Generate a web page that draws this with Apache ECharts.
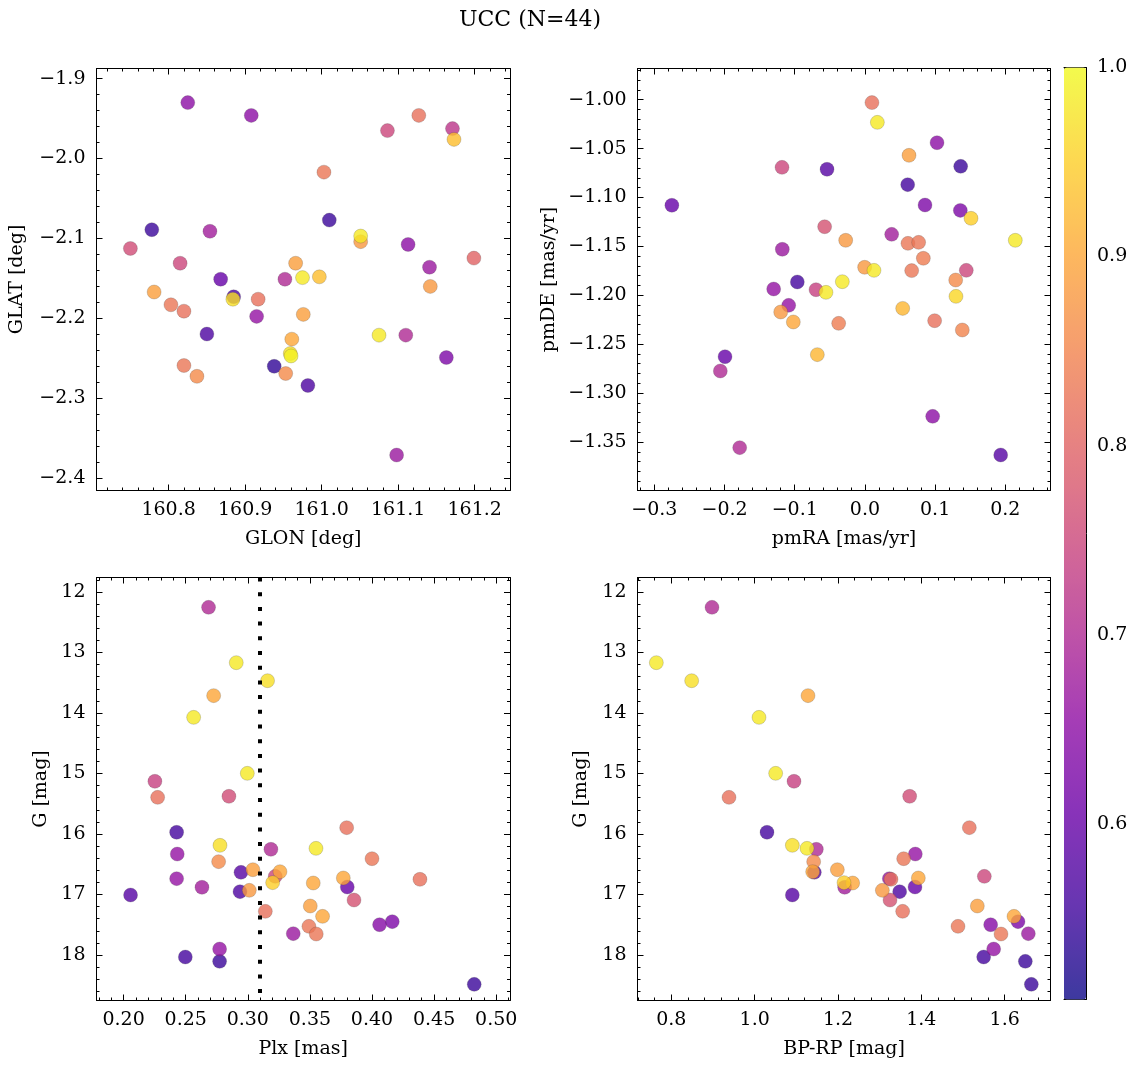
<!DOCTYPE html>
<html><head><meta charset="utf-8">
<script src="https://cdn.jsdelivr.net/npm/echarts@6/dist/echarts.min.js"></script>
<style>html,body{margin:0;padding:0;background:#fff}#c{width:1136px;height:1067px}</style>
</head><body><div id="c"></div>
<script>
// ---- Panel 1: sky positions ----
const glon = [160.825,160.908,161.086,161.127,161.171,161.173,161.003,161.010,160.778,160.854,160.750,161.051,161.051,161.113,161.199,160.815,160.966,161.141,160.868,160.952,160.975,160.997,160.781,161.142,160.885,160.884,160.917,160.803,160.820,160.915,160.976,160.850,161.075,161.110,160.961,160.959,160.960,161.163,160.820,160.837,160.938,160.953,160.982,161.098];
const glat = [-1.930,-1.946,-1.965,-1.946,-1.9625,-1.976,-2.017,-2.077,-2.089,-2.091,-2.1125,-2.097,-2.104,-2.1075,-2.1246,-2.131,-2.131,-2.136,-2.151,-2.151,-2.149,-2.148,-2.167,-2.160,-2.173,-2.176,-2.176,-2.183,-2.191,-2.1975,-2.195,-2.2196,-2.221,-2.221,-2.226,-2.244,-2.247,-2.249,-2.259,-2.2725,-2.260,-2.269,-2.284,-2.371];
const probSky = [0.65,0.65,0.75,0.82,0.72,0.93,0.83,0.55,0.55,0.68,0.76,0.98,0.88,0.65,0.80,0.75,0.89,0.67,0.60,0.70,0.98,0.93,0.89,0.88,0.57,0.97,0.82,0.83,0.82,0.66,0.89,0.57,0.98,0.70,0.90,0.97,0.99,0.63,0.83,0.86,0.54,0.86,0.57,0.67];
// ---- Panel 2: proper motions ----
const pmra = [-0.275,0.010,0.0177,0.1027,0.0628,-0.1181,-0.054,0.1364,0.0609,0.0856,0.1359,0.1511,-0.0574,-0.0274,0.0381,0.0613,0.0765,0.2142,-0.1177,0.0832,-0.0004,0.0129,0.0666,0.1444,-0.0963,-0.0322,-0.130,-0.0697,-0.0555,0.1293,0.1297,-0.1086,-0.120,-0.102,-0.0374,0.0538,0.0993,0.1387,-0.1993,-0.206,-0.0678,0.0965,-0.1784,0.1934];
const pmde = [-1.108,-1.003,-1.0232,-1.044,-1.0569,-1.0692,-1.0712,-1.0682,-1.0869,-1.1077,-1.1132,-1.1213,-1.1299,-1.1438,-1.1377,-1.1469,-1.1459,-1.1438,-1.1530,-1.1622,-1.1714,-1.1745,-1.1748,-1.1745,-1.1864,-1.1861,-1.1936,-1.1943,-1.1970,-1.1844,-1.2011,-1.2103,-1.2171,-1.2273,-1.2287,-1.2134,-1.2260,-1.2355,-1.2628,-1.2774,-1.2607,-1.3238,-1.3558,-1.3633];
const probPM = [0.60,0.82,0.98,0.65,0.89,0.75,0.58,0.55,0.56,0.63,0.63,0.95,0.77,0.88,0.68,0.83,0.83,0.98,0.67,0.84,0.88,0.98,0.83,0.75,0.56,0.98,0.66,0.74,0.98,0.86,0.96,0.66,0.88,0.90,0.84,0.92,0.82,0.85,0.60,0.70,0.92,0.65,0.70,0.58];
// ---- Panels 3 & 4: parallax / photometry ----
const plx = [0.2684,0.2907,0.3159,0.2725,0.2564,0.2996,0.2252,0.2274,0.2848,0.3796,0.2427,0.2776,0.3186,0.3549,0.2432,0.2765,0.4000,0.2945,0.3041,0.3221,0.3259,0.3200,0.3527,0.2427,0.2631,0.3769,0.3801,0.4386,0.2056,0.2937,0.3012,0.3855,0.3141,0.3503,0.3602,0.4061,0.4163,0.3366,0.3492,0.3551,0.2773,0.2497,0.2773,0.4823];
const gmag = [12.253,13.168,13.466,13.713,14.072,14.997,15.129,15.394,15.377,15.895,15.972,16.187,16.253,16.237,16.331,16.457,16.408,16.634,16.590,16.700,16.623,16.804,16.810,16.738,16.881,16.727,16.876,16.749,17.008,16.953,16.931,17.091,17.278,17.190,17.361,17.499,17.449,17.647,17.526,17.653,17.901,18.033,18.105,18.485];
const bprp = [0.8976,0.764,0.8488,1.128,1.0104,1.0504,1.0944,0.9384,1.372,1.5152,1.0296,1.0904,1.148,1.1256,1.3856,1.1416,1.3576,1.1432,1.1984,1.5512,1.1392,1.2144,1.2352,1.3232,1.216,1.3928,1.3848,1.3272,1.0904,1.348,1.3064,1.3248,1.3552,1.5344,1.6224,1.5664,1.632,1.6568,1.488,1.5912,1.5736,1.5496,1.6496,1.664];
const probPhot = [0.70,0.98,0.97,0.90,0.98,0.98,0.74,0.82,0.76,0.82,0.56,0.97,0.70,0.98,0.66,0.86,0.83,0.58,0.89,0.75,0.90,0.95,0.90,0.66,0.68,0.90,0.60,0.82,0.58,0.57,0.88,0.77,0.82,0.89,0.90,0.64,0.63,0.67,0.83,0.83,0.66,0.56,0.55,0.55];
const plxLine = 0.309;
// ---- tick labels ----
const glonTicks = [160.8,160.9,161.0,161.1,161.2];
const glatTicks = [-1.9,-2.0,-2.1,-2.2,-2.3,-2.4];
const pmraTicks = [-0.3,-0.2,-0.1,0.0,0.1,0.2];
const pmdeTicks = [-1.00,-1.05,-1.10,-1.15,-1.20,-1.25,-1.30,-1.35];
const plxTicks = [0.20,0.25,0.30,0.35,0.40,0.45,0.50];
const gTicks = [12,13,14,15,16,17,18];
const bprpTicks = [0.8,1.0,1.2,1.4,1.6];
const probTicks = [0.6,0.7,0.8,0.9,1.0];
const probMin = 0.507, probMax = 1.0;

const plasma = ['#0d0887','#41049d','#6a00a8','#8f0da4','#b12a90','#cc4778','#e16462','#f2844b','#fca636','#fcce25','#f0f921'];
const ALPHA = 0.8;
function blend(hex){const n=parseInt(hex.slice(1),16);const c=[n>>16,(n>>8)&255,n&255].map(v=>Math.round(ALPHA*v+(1-ALPHA)*255));return 'rgb('+c.join(',')+')';}
const plasmaBaked = plasma.map(blend);

const FONT = 'DejaVu Serif';
const FS = 19;
const fmt = (v,d)=>{const s=Math.abs(v).toFixed(d);return (v<-1e-9?'\u2212':'')+s;};
function steps(min,max,step){const o=[];const k0=Math.ceil(min/step-1e-9),k1=Math.floor(max/step+1e-9);for(let k=k0;k<=k1;k++)o.push(+(k*step).toFixed(6));return o;}

const grids=[], xAxes=[], yAxes=[];
const lineStyle={color:'#000',width:1};
function addAxes(kind, gi, cfg){
  const arr = kind==='x'?xAxes:yAxes;
  const posMain = kind==='x'?'bottom':'left';
  const posOpp = kind==='x'?'top':'right';
  const minors = steps(cfg.min,cfg.max,cfg.minor);
  const base = {type:'value',gridIndex:gi,min:cfg.min,max:cfg.max,inverse:!!cfg.inverse,splitLine:{show:false},axisPointer:{show:false}};
  const lineOn = {show:true,onZero:false,lineStyle};
  const lineOff = {show:false,onZero:false};
  const mainIdx = arr.length;
  arr.push(Object.assign({},base,{position:posMain,axisLine:lineOn,
    axisTick:{show:true,inside:true,length:6,customValues:cfg.ticks,lineStyle},
    axisLabel:{show:true,customValues:cfg.ticks,margin:cfg.margin,formatter:v=>fmt(v,cfg.dec),color:'#000',fontFamily:FONT,fontSize:FS},
    name:cfg.name,nameLocation:'middle',nameGap:cfg.nameGap,nameTextStyle:{color:'#000',fontFamily:FONT,fontSize:FS}}));
  arr.push(Object.assign({},base,{position:posMain,axisLine:lineOff,
    axisTick:{show:true,inside:true,length:3,customValues:minors,lineStyle},axisLabel:{show:false}}));
  arr.push(Object.assign({},base,{position:posOpp,axisLine:lineOn,
    axisTick:{show:true,inside:true,length:6,customValues:cfg.ticks,lineStyle},axisLabel:{show:false}}));
  arr.push(Object.assign({},base,{position:posOpp,axisLine:lineOff,
    axisTick:{show:true,inside:true,length:3,customValues:minors,lineStyle},axisLabel:{show:false}}));
  return mainIdx;
}

const panels = [
  {grid:{left:96.5,top:68.5,width:413.5,height:422},
   x:{min:160.7057,max:161.2462,ticks:glonTicks,minor:0.02,dec:1,name:'GLON [deg]',nameGap:39,margin:10},
   y:{min:-2.4154,max:-1.8873,ticks:glatTicks,minor:0.02,dec:1,name:'GLAT [deg]',nameGap:70,margin:11},
   xs:glon,ys:glat,ps:probSky},
  {grid:{left:637.5,top:68.5,width:413,height:422},
   x:{min:-0.32398,max:0.26435,ticks:pmraTicks,minor:0.02,dec:1,name:'pmRA [mas/yr]',nameGap:39,margin:10},
   y:{min:-1.39962,max:-0.96813,ticks:pmdeTicks,minor:0.01,dec:2,name:'pmDE [mas/yr]',nameGap:79,margin:11},
   xs:pmra,ys:pmde,ps:probPM},
  {grid:{left:96.5,top:577.5,width:413.5,height:423},
   x:{min:0.17818,max:0.5111,ticks:plxTicks,minor:0.01,dec:2,name:'Plx [mas]',nameGap:39,margin:10},
   y:{min:11.760,max:18.752,inverse:true,ticks:gTicks,minor:0.2,dec:0,name:'G [mag]',nameGap:46,margin:11},
   xs:plx,ys:gmag,ps:probPhot,vline:plxLine},
  {grid:{left:637.5,top:577.5,width:413,height:423},
   x:{min:0.7188,max:1.710,ticks:bprpTicks,minor:0.04,dec:1,name:'BP-RP [mag]',nameGap:39,margin:10},
   y:{min:11.760,max:18.752,inverse:true,ticks:gTicks,minor:0.2,dec:0,name:'G [mag]',nameGap:47,margin:11},
   xs:bprp,ys:gmag,ps:probPhot}
];

const series=[];
panels.forEach((p,gi)=>{
  grids.push(Object.assign({outerBoundsMode:'none',containLabel:false},p.grid));
  const xi=addAxes('x',gi,p.x), yi=addAxes('y',gi,p.y);
  const data=p.xs.map((x,i)=>[x,p.ys[i],p.ps[i]]).sort((a,b)=>a[2]-b[2]);
  const s={type:'scatter',xAxisIndex:xi,yAxisIndex:yi,data,symbolSize:14,
    itemStyle:{opacity:ALPHA,borderColor:'rgba(70,70,70,0.55)',borderWidth:0.5},
    emphasis:{disabled:true},silent:true};
  if(p.vline!==undefined){
    s.markLine={silent:true,symbol:['none','none'],label:{show:false},z:10,
      lineStyle:{color:'#000',width:4,type:[4,10.7],cap:'butt'},data:[{xAxis:p.vline}]};
  }
  series.push(s);
});
// colorbar grid
const cbGi = grids.length;
grids.push({left:1064,top:67.5,width:22,height:932,outerBoundsMode:'none',containLabel:false});
const cbx1 = xAxes.length;
const cbLine = {show:true,onZero:false,lineStyle};
xAxes.push({type:'value',gridIndex:cbGi,min:0,max:1,position:'bottom',axisLine:cbLine,axisTick:{show:false},axisLabel:{show:false},splitLine:{show:false}});
xAxes.push({type:'value',gridIndex:cbGi,min:0,max:1,position:'top',axisLine:cbLine,axisTick:{show:false},axisLabel:{show:false},splitLine:{show:false}});
const cby = yAxes.length;
yAxes.push({type:'value',gridIndex:cbGi,min:probMin,max:probMax,position:'right',axisLine:cbLine,
  axisTick:{show:true,inside:true,length:6,customValues:probTicks,lineStyle},
  axisLabel:{show:true,customValues:probTicks,margin:11,formatter:v=>fmt(v,1),color:'#000',fontFamily:FONT,fontSize:FS},splitLine:{show:false}});
yAxes.push({type:'value',gridIndex:cbGi,min:probMin,max:probMax,position:'right',axisLine:{show:false,onZero:false},
  axisTick:{show:true,inside:true,length:3,customValues:steps(probMin,probMax,0.02),lineStyle},axisLabel:{show:false},splitLine:{show:false}});
yAxes.push({type:'value',gridIndex:cbGi,min:probMin,max:probMax,position:'left',axisLine:cbLine,axisTick:{show:false},axisLabel:{show:false},splitLine:{show:false}});
series.push({type:'scatter',xAxisIndex:cbx1,yAxisIndex:cby,data:[],silent:true});

const option={
  animation:false,
  backgroundColor:'#fff',
  textStyle:{fontFamily:FONT},
  grid:grids,xAxis:xAxes,yAxis:yAxes,series,
  visualMap:[
    {type:'continuous',show:false,seriesIndex:[0,1,2,3],dimension:2,min:probMin,max:probMax,inRange:{color:plasma}},
    {type:'continuous',show:true,seriesIndex:[series.length-1],dimension:1,min:probMin,max:probMax,
     calculable:false,orient:'vertical',left:1064,top:67.5,itemWidth:22,itemHeight:932,padding:0,
     hoverLink:false,showLabel:false,text:null,inRange:{color:plasmaBaked},z:1}
  ],
  graphic:[{type:'text',x:530,y:20,style:{text:'UCC (N=44)',fill:'#000',font:'22px "'+FONT+'"',textAlign:'center',textVerticalAlign:'middle'}}]
};
const chart=echarts.init(document.getElementById('c'),null,{renderer:'canvas'});
chart.setOption(option);
</script></body></html>
